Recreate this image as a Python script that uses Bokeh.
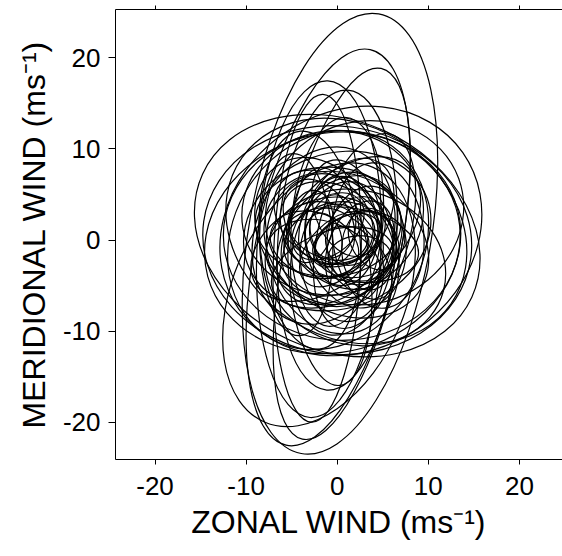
from bokeh.plotting import figure
from bokeh.models import ColumnDataSource, LinearAxis, FixedTicker
from bokeh.embed import file_html
from bokeh.resources import INLINE

# Hodograph ellipses: centre (u, v), semi-axes (m/s), orientation (deg)
cx = [0.3, -1.0, 0.5, -2.2, 0.0, -0.8, -2.0, 0.0, 0.0, -0.5, 1.0, 1.5, 0.5, -1.0,
      0.0, -1.5, 1.0, -0.5, 1.5, -2.0, 0.5, -1.0, 2.0, -2.5, 0.0, 1.0, -1.5, 0.5,
      -0.5, 2.5, -2.0, 0.0, -1.0, 1.0, -0.5, 0.5, -1.5, 0.0, -3.0, 3.0, 4.5, -4.5,
      2.0, -0.5, 3.0, -2.0,
      2.5, 3.0, 1.5, -1.0, 0.5, -2.5, 2.0, 3.5, -0.5, 1.0, -1.5, 2.5, 0.0, 1.5, -3.0, 4.0]
cy = [0.7, -0.8, -1.5, -2.0, 0.0, -4.0, -6.0, 0.5, 0.0, -0.3, 1.0, 1.0, 0.5, 0.0,
      1.0, 0.5, -0.5, -1.5, 1.5, 1.0, -2.0, 2.0, 0.0, -1.0, 0.5, 2.5, -2.5, 1.0,
      0.0, -1.0, 2.0, -1.0, 1.0, 0.0, 1.5, -0.5, 0.0, 2.0, 0.0, 1.0, 0.5, -0.5,
      -3.0, 3.0, 3.0, -1.0,
      -0.5, 0.5, -1.5, 1.5, -2.5, -0.5, 1.0, -1.0, -3.0, 3.5, 2.5, -2.0, 0.0, -0.5, 1.5, 0.0]
semi_major = [24.5, 22.2, 20.8, 18.0, 16.5, 12.0, 15.2, 16.25, 14.8, 14.2, 14.0, 15.0, 13.0, 12.5,
              10.5, 10.0, 9.5, 9.0, 9.0, 8.5, 8.5, 8.0, 7.5, 7.5, 7.0, 7.0, 6.5, 6.0,
              5.5, 5.5, 5.0, 5.0, 4.5, 4.0, 3.5, 3.0, 3.0, 11.5, 12.0, 11.0, 8.0, 10.0,
              10.0, 10.0, 11.0, 18.5,
              5.0, 5.5, 6.0, 4.5, 6.5, 5.0, 4.0, 4.5, 7.0, 5.5, 6.0, 3.5, 8.0, 7.5, 4.0, 3.5]
semi_minor = [10.0, 7.9, 6.3, 4.8, 6.5, 4.5, 9.5, 12.6, 12.5, 12.0, 11.5, 13.0, 11.5, 10.5,
              8.5, 7.5, 7.5, 7.0, 6.0, 6.5, 5.5, 6.0, 5.5, 5.0, 5.0, 4.5, 4.5, 4.0,
              4.0, 3.5, 3.5, 3.0, 3.0, 2.5, 2.5, 2.0, 2.0, 5.0, 5.5, 5.0, 5.0, 4.0,
              8.5, 9.0, 10.0, 6.8,
              3.5, 4.0, 3.0, 3.0, 4.5, 3.5, 3.0, 3.0, 4.0, 3.5, 4.5, 2.5, 5.5, 4.0, 2.5, 2.5]
orient_deg = [80, 78, 78, 88, 86, 95, 67, -24.6, -8, 15, -35, 35, 0, 60,
              20, 70, -30, 110, 45, -60, 80, 0, 100, 30, 140, 60, -20, 90,
              20, 70, 120, 45, 160, 30, 80, 10, 100, 85, 95, 75, 95, 92,
              -15, 10, 20, 87,
              15, 75, 130, 40, 100, 160, 60, 90, 20, 110, 140, 0, 50, 170, 80, 120]

ticks = [-20, -10, 0, 10, 20]
tick_labels = ["-20", "-10", "0", "10", "20"]
x_title = "ZONAL WIND (ms\u207b\u00b9)"
y_title = "MERIDIONAL WIND (ms\u207b\u00b9)"

src = ColumnDataSource(dict(
    x=cx, y=cy,
    w=[2 * a for a in semi_major],
    h=[2 * b for b in semi_minor],
    ang=orient_deg,
))

FONT = "Liberation Sans"
overrides = {t: s for t, s in zip(ticks, tick_labels)}

p = figure(width=562, height=556, x_range=(-24.34, 24.73), y_range=(-24.07, 25.3),
           output_backend="svg", toolbar_location=None,
           x_axis_location=None, y_axis_location=None,
           min_border_left=115, min_border_right=0, min_border_top=9, min_border_bottom=97)
p.outline_line_color = None
p.grid.visible = False
p.background_fill_color = "white"
p.border_fill_color = "white"

p.ellipse(x="x", y="y", width="w", height="h", angle="ang", angle_units="deg",
          source=src, fill_color=None, line_color="black", line_width=1.2)

top = LinearAxis(ticker=FixedTicker(ticks=ticks))
top.major_label_overrides = {t: "" for t in ticks}
top.major_label_text_font_size = "4px"
top.major_label_standoff = 0
top.major_tick_out = 4
top.major_tick_in = 0
top.minor_tick_line_color = None
top.axis_line_color = "black"
top.major_tick_line_color = "black"
p.add_layout(top, "above")

xax = LinearAxis(ticker=FixedTicker(ticks=ticks), axis_label=x_title)
yax = LinearAxis(ticker=FixedTicker(ticks=ticks), axis_label=y_title)
for ax in (xax, yax):
    ax.major_label_overrides = overrides
    ax.minor_tick_line_color = None
    ax.major_tick_in = 0
    ax.axis_line_color = "black"
    ax.major_tick_line_color = "black"
    ax.major_label_text_font = FONT
    ax.major_label_text_font_size = "26px"
    ax.major_label_text_color = "black"
    ax.axis_label_text_font = FONT
    ax.axis_label_text_font_size = "32px"
    ax.axis_label_text_font_style = "normal"
    ax.axis_label_text_color = "black"

xax.major_tick_out = 5
xax.major_label_standoff = 12
xax.axis_label_standoff = 6
yax.major_tick_out = 7
yax.major_label_standoff = 8
yax.axis_label_standoff = 8
p.add_layout(xax, "below")
p.add_layout(yax, "left")

open("out.html", "w").write(file_html(p, INLINE))
